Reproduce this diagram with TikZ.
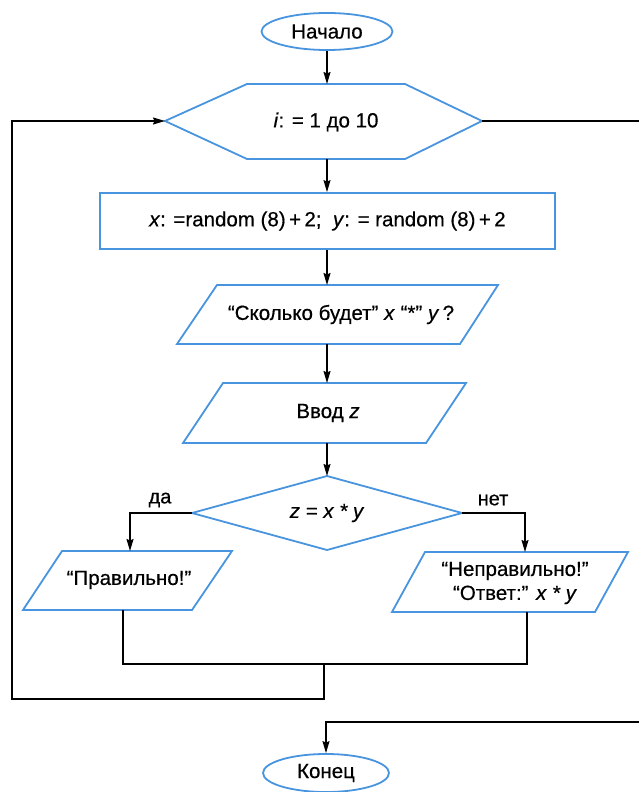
\documentclass[tikz,border=0pt]{standalone}
\usepackage{fontspec}
\setmainfont{Liberation Sans}[FakeBold=0.5]
\usetikzlibrary{shapes.geometric,arrows.meta}
\definecolor{fblue}{RGB}{72,148,222}
\begin{document}
\begin{tikzpicture}[x=1pt,y=-1pt,
  shapeline/.style={draw=fblue,line width=1.8pt,line join=miter},
  conn/.style={line width=1.3pt,draw=black},
  arr/.style={conn,-{Stealth[length=12pt,width=7pt,inset=1.5pt]}},
  txt/.style={font=\fontsize{20.5}{24}\selectfont, inner sep=0pt, align=center},
  lbl/.style={font=\fontsize{20}{24}\selectfont, inner sep=0pt},
  term/.style={ellipse,shapeline,minimum width=131pt,minimum height=37pt,inner sep=0pt,font=\fontsize{20.5}{24}\selectfont}
]
\useasboundingbox (0,0) rectangle (639,792);

% terminals
\node[term] (start) at (327,31.5) {Начало};
\node[term, minimum width=126pt, minimum height=38pt] (stop) at (326,773) {Конец};

% loop hexagon
\draw[shapeline] (165,121) -- (247,84) -- (405,84) -- (482,121) -- (405,159) -- (247,159) -- cycle;
\coordinate (hexW) at (165,121);
\coordinate (hexE) at (482,121);
\coordinate (hexN) at (327,84);
\coordinate (hexS) at (327,159);
\node[txt] (loop) at (326,122) {\textit{i}: = 1 до 10};

% assignment box
\node[draw=fblue, line width=1.8pt, minimum width=455pt, minimum height=56pt, inner sep=0pt, font=\fontsize{20.5}{24}\selectfont] (assign) at (327.5,221) {\textit{x}: =random (8)\,+\,2;\ \ \textit{y}: = random (8)\,+\,2};

% output question
\draw[shapeline] (217,285) -- (498,285) -- (460,344) -- (177,344) -- cycle;
\coordinate (p1N) at (327,285);
\coordinate (p1S) at (327,344);
\node[txt] (ask) at (341,314.5) {“Сколько будет” \textit{x} “*” \textit{y}\,?};

% input
\draw[shapeline] (223,383) -- (466,383) -- (426,443) -- (183,443) -- cycle;
\coordinate (p2N) at (327,383);
\coordinate (p2S) at (327,443);
\node[txt] (inp) at (328,413) {Ввод \textit{z}};

% decision
\draw[shapeline] (327,476) -- (462,513) -- (327,550) -- (192,513) -- cycle;
\coordinate (dN) at (327,476);
\coordinate (dE) at (462,513);
\coordinate (dW) at (192,513);
\node[txt] (cond) at (327,513) {\textit{z = x * y}};
\node[lbl] (yes) at (160,500) {да};
\node[lbl] (no) at (493,500) {нет};

% right answer
\draw[shapeline] (62,551) -- (232,551) -- (192,610) -- (23,610) -- cycle;
\coordinate (p3N) at (130,551);
\coordinate (p3S) at (123,610);
\node[txt] (ok) at (129,580) {“Правильно!”};

% wrong answer
\draw[shapeline] (425,552) -- (628,552) -- (595,612) -- (392,612) -- cycle;
\coordinate (p4N) at (525,552);
\coordinate (p4S) at (527,612);
\node[txt] (bad) at (515,583) {“Неправильно!”\\“Ответ:” \textit{x * y}};

% junctions
\coordinate (join) at (324,664);
\coordinate (back) at (324,699);
\coordinate (leftc) at (12,699);
\coordinate (exitR) at (660,121);
\coordinate (exitB) at (660,722);

% connectors
\draw[arr] (start) -- (hexN);
\draw[arr] (hexS) -- (assign.north -| hexS);
\draw[arr] (assign.south -| p1N) -- (p1N);
\draw[arr] (p1S) -- (p2N);
\draw[arr] (p2S) -- (dN);
\draw[arr] (dW) -| (p3N);
\draw[arr] (dE) -| (p4N);
\draw[conn] (p3S) |- (join) -| (p4S);
\draw[arr] (join) -- (back) -- (leftc) |- (hexW);
\begin{scope}
\clip (0,0) rectangle (639,792);
\draw[arr] (hexE) -- (exitR) -- (exitB) -| (stop.north);
\end{scope}
\end{tikzpicture}
\end{document}
